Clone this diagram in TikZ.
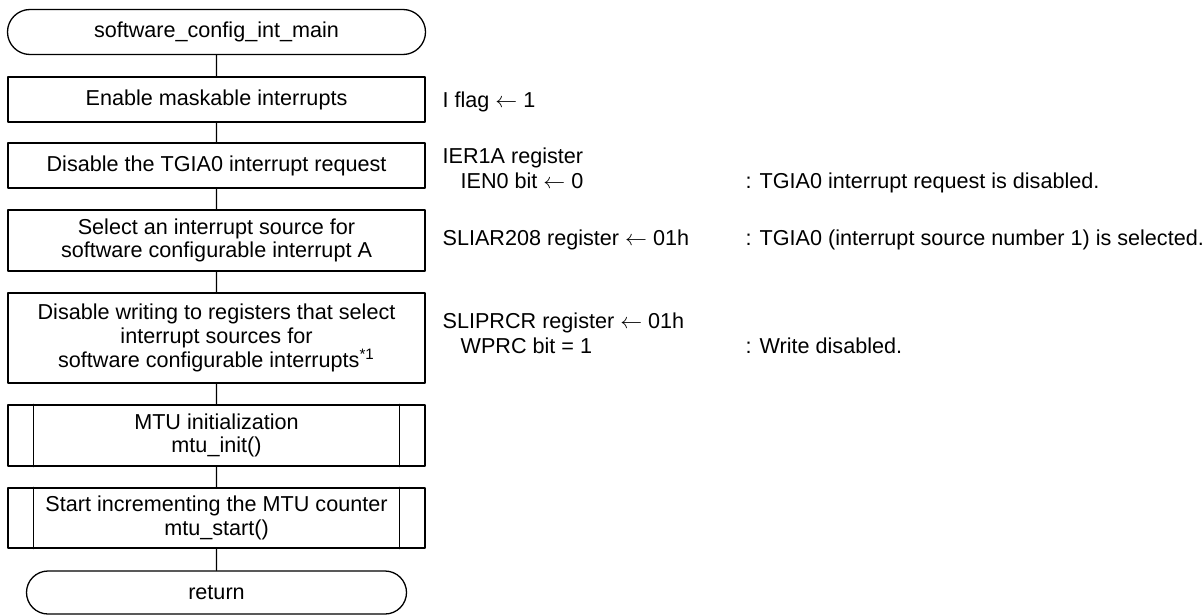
\documentclass[tikz,border=0pt]{standalone}
\usepackage{fontspec}
\setmainfont{Liberation Sans}
\usetikzlibrary{shapes.misc}
\begin{document}
\begin{tikzpicture}[x=.5pt, y=-.5pt, line join=round, line cap=round, line width=.65pt,
	font=\fontsize{10.8pt}{11.9pt}\selectfont,
	term/.style={draw, rounded rectangle, inner sep=0pt},
	proc/.style={draw, rectangle, minimum width=208.5pt, align=center, inner sep=0pt},
	note/.style={anchor=base west, inner sep=0pt}]
	\useasboundingbox (0,0) rectangle (1203,615);
	% flow
	\node[term, minimum width=209pt, minimum height=22.5pt] (start) at (216.5,32) {software\_config\_int\_main};
	\node[proc, minimum height=22.5pt] (irq) at (216.5,99.5) {Enable maskable interrupts};
	\node[proc, minimum height=22.5pt] (ier) at (216.5,165.5) {Disable the TGIA0 interrupt request};
	\node[proc, minimum height=30.5pt] (sliar) at (216.5,240.5) {Select an interrupt source for\\software configurable interrupt A};
	\node[proc, minimum height=45pt] (sliprcr) at (216.5,338) {Disable writing to registers that select\\interrupt sources for\\software configurable interrupts\textsuperscript{*1}};
	\node[proc, minimum height=30.5pt] (mtuinit) at (216.5,435.5) {MTU initialization\\mtu\_init()};
	\node[proc, minimum height=30pt] (mtustart) at (216.5,518) {Start incrementing the MTU counter\\mtu\_start()};
	\node[term, minimum width=190pt, minimum height=21.5pt] (ret) at (216.5,592.5) {return};
	\foreach \n in {mtuinit,mtustart}
		\draw ([xshift=13pt]\n.north west) -- ([xshift=13pt]\n.south west)
		([xshift=-13pt]\n.north east) -- ([xshift=-13pt]\n.south east);
	\draw (start) -- (irq) -- (ier) -- (sliar) -- (sliprcr) -- (mtuinit) -- (mtustart) -- (ret);
	% notes
	\node[note] (iflag) at (442,107) {I flag $\leftarrow$ 1};
	\node[note] (ier1a) at (442,163) {IER1A register};
	\node[note] (ien0) at (460,188) {IEN0 bit $\leftarrow$ 0};
	\node[note] (ien0c) at (745,188) {: TGIA0 interrupt request is disabled.};
	\node[note] (sliarreg) at (442,245) {SLIAR208 register $\leftarrow$ 01h};
	\node[note] (sliarc) at (745,245) {: TGIA0 (interrupt source number 1) is selected.};
	\node[note] (sliprcrreg) at (442,328) {SLIPRCR register $\leftarrow$ 01h};
	\node[note] (wprc) at (460,353) {WPRC bit = 1};
	\node[note] (wprcc) at (745,353) {: Write disabled.};
\end{tikzpicture}
\end{document}
